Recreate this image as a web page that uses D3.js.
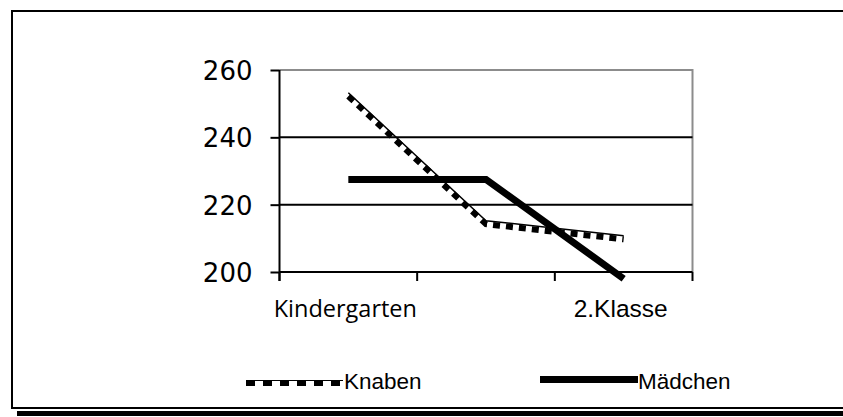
<!DOCTYPE html>
<html>
<head>
<meta charset="utf-8">
<script src="https://cdn.jsdelivr.net/npm/d3@7"></script>
<style>
  html, body { margin: 0; padding: 0; background: #fff; }
  svg { display: block; }
</style>
</head>
<body>
<svg id="chart" width="843" height="417"></svg>
<script>
// ---- data ----
const categories = ["Kindergarten", "", "2.Klasse"];
const knaben = [252.5, 214.5, 210];
const maedchen = [227.5, 227.5, 198];
const seriesNames = ["Knaben", "Mädchen"];
const yTicks = [200, 220, 240, 260];

(function () {
// ---- layout ----
const svg = d3.select("#chart");
const pLeft = 279.5, pRight = 692.5, pTop = 70, pBottom = 272;

const x = d3.scaleBand().domain(d3.range(categories.length)).range([pLeft, pRight]).padding(0);
const y = d3.scaleLinear().domain([200, 260]).range([pBottom, pTop]);

// outer frame with shadow
svg.append("rect").attr("x", 17).attr("y", 411).attr("width", 830).attr("height", 5).attr("fill", "#000");
svg.append("rect").attr("x", 12).attr("y", 11).attr("width", 840).attr("height", 397)
  .attr("fill", "#fff").attr("stroke", "#000").attr("stroke-width", 2);

// plot border (grey top/right)
svg.append("path")
  .attr("d", `M${pLeft},${pTop}H${pRight}V${pBottom}`)
  .attr("fill", "none").attr("stroke", "#8c8c8c").attr("stroke-width", 2);

// gridlines
svg.append("g").selectAll("line")
  .data(yTicks.filter(v => v !== 200 && v !== 260))
  .join("line")
  .attr("x1", pLeft).attr("x2", pRight)
  .attr("y1", d => y(d)).attr("y2", d => y(d))
  .attr("stroke", "#000").attr("stroke-width", 2);

// y axis
const yAxis = d3.axisLeft(y).tickValues(yTicks).tickSize(9).tickPadding(18).tickFormat(d3.format("d"));
const gy = svg.append("g").attr("transform", `translate(${pLeft},0)`).call(yAxis);
gy.select(".domain").attr("stroke", "#000").attr("stroke-width", 2).attr("d", `M0,${pTop}V${pBottom + 9}`);
gy.selectAll(".tick line").attr("stroke", "#000").attr("stroke-width", 2);
gy.selectAll(".tick text")
  .attr("font-family", "'DejaVu Sans', Verdana, sans-serif")
  .attr("font-size", 26).attr("fill", "#000").attr("dy", "0.36em");

// x axis
svg.append("line").attr("x1", pLeft).attr("x2", pRight)
  .attr("y1", pBottom).attr("y2", pBottom).attr("stroke", "#000").attr("stroke-width", 2);
const boundaries = d3.range(categories.length + 1).map(i => i < categories.length ? x(i) : x(categories.length - 1) + x.bandwidth());
svg.append("g").selectAll("line").data(boundaries).join("line")
  .attr("x1", d => d).attr("x2", d => d)
  .attr("y1", pBottom).attr("y2", pBottom + 9)
  .attr("stroke", "#000").attr("stroke-width", 2);
svg.append("g").selectAll("text").data(categories).join("text")
  .attr("x", (d, i) => x(i) + x.bandwidth() / 2 - 3)
  .attr("y", 317)
  .attr("text-anchor", "middle")
  .attr("font-family", (d, i) => i === 0 ? "'Open Sans', sans-serif" : "'Liberation Sans', Arial, sans-serif")
  .attr("font-size", (d, i) => i === 0 ? 23.5 : 24.5)
  .attr("fill", "#000")
  .text(d => d);

// lines
const line = d3.line().x((d, i) => x(i) + x.bandwidth() / 2).y(d => y(d));

// Mädchen: thick solid
svg.append("path").datum(maedchen).attr("d", line)
  .attr("fill", "none").attr("stroke", "#000").attr("stroke-width", 7)
  .attr("stroke-linejoin", "miter");

// Knaben: checkered dashed line
svg.append("path").datum(knaben).attr("d", line)
  .attr("transform", "translate(0,1)")
  .attr("fill", "none").attr("stroke", "#000").attr("stroke-width", 6)
  .attr("stroke-dasharray", "7 6");
svg.append("path").datum(knaben).attr("d", line)
  .attr("transform", "translate(0,-2.5)")
  .attr("fill", "none").attr("stroke", "#000").attr("stroke-width", 1.5);

// legend
const lg = svg.append("g");
lg.append("line").attr("x1", 246).attr("x2", 343).attr("y1", 383.5).attr("y2", 383.5)
  .attr("stroke", "#000").attr("stroke-width", 5).attr("stroke-dasharray", "9 8");
lg.append("line").attr("x1", 246).attr("x2", 343).attr("y1", 380.5).attr("y2", 380.5)
  .attr("stroke", "#000").attr("stroke-width", 1.2);
lg.append("text").attr("x", 344).attr("y", 389)
  .attr("font-family", "'Liberation Sans', Arial, sans-serif").attr("font-size", 22.5)
  .attr("fill", "#000").text(seriesNames[0]);
lg.append("line").attr("x1", 540).attr("x2", 638).attr("y1", 379.5).attr("y2", 379.5)
  .attr("stroke", "#000").attr("stroke-width", 7);
lg.append("text").attr("x", 638).attr("y", 389)
  .attr("font-family", "'Liberation Sans', Arial, sans-serif").attr("font-size", 22.5)
  .attr("fill", "#000").text(seriesNames[1]);
})();
</script>
</body>
</html>
